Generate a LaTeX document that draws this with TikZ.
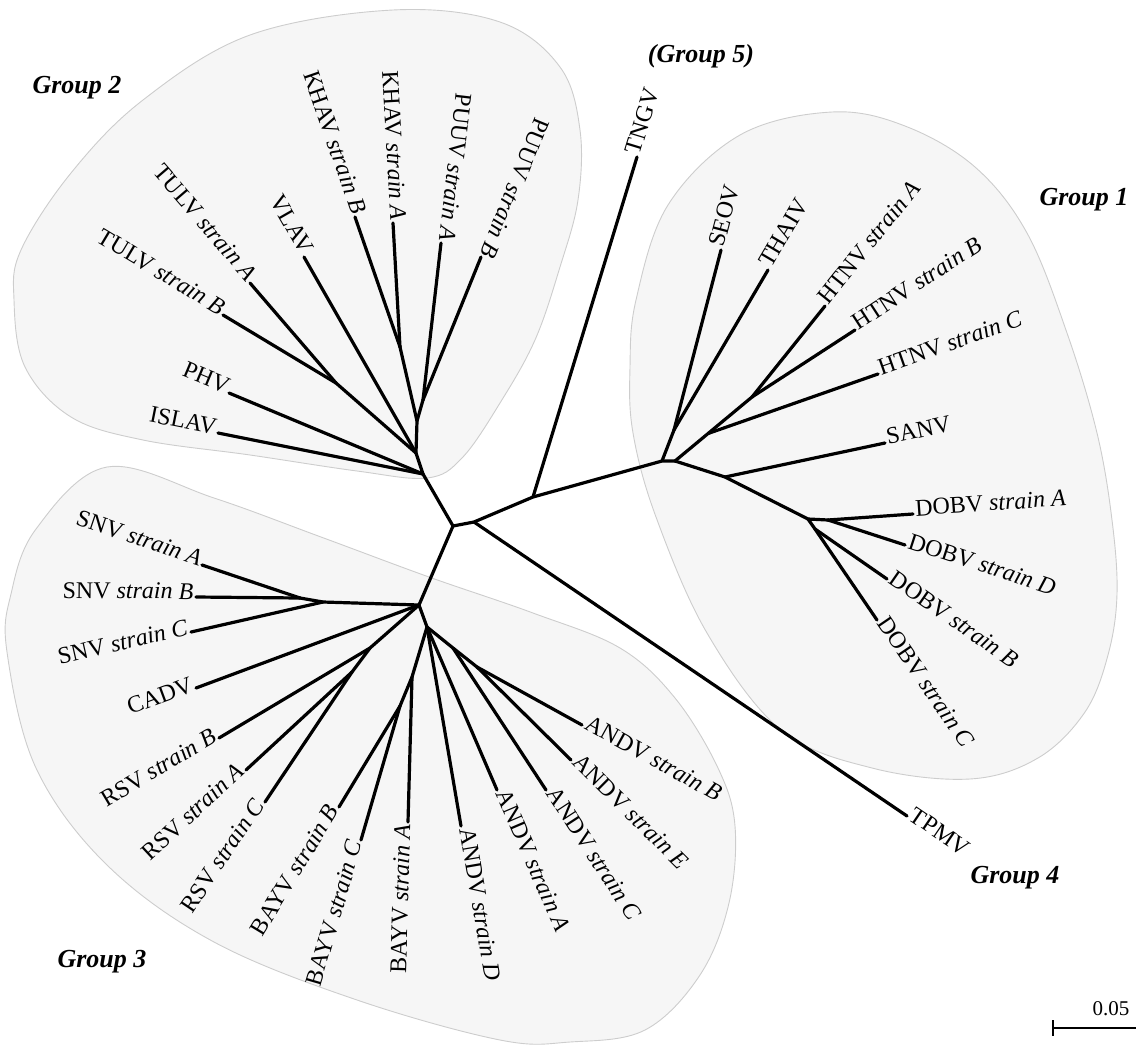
\documentclass[tikz,border=0pt]{standalone}
\usepackage{fontspec}
\setmainfont{Liberation Serif}
\usetikzlibrary{calc}
\definecolor{blobfill}{RGB}{246,246,246}
\definecolor{blobline}{RGB}{205,205,205}
\newcommand\leafL[4]{\draw[br] (#1) -- (#2);
  \path let \p1=($(#2)-(#1)$), \n1={atan2(\y1,\x1)+180} in node[lbl, anchor=mid east, rotate=\n1] (#3) at (#2) {#4};}
\newcommand\leafR[4]{\draw[br] (#1) -- (#2);
  \path let \p1=($(#2)-(#1)$), \n1={atan2(\y1,\x1)} in node[lbl, anchor=mid west, rotate=\n1] (#3) at (#2) {#4};}
\begin{document}
\begin{tikzpicture}[x=1pt,y=-1pt,
  br/.style={line width=3.2pt, line cap=round, line join=round},
  lbl/.style={font=\fontsize{24}{28}\selectfont, inner sep=2.5pt},
  grp/.style={font=\fontsize{26}{30}\selectfont\bfseries\itshape, inner sep=0pt},
  blob/.style={fill=blobfill, draw=blobline, line width=0.9pt}]
\useasboundingbox (0,0) rectangle (1136,1045);

% ---------- group areas ----------
\draw[blob] plot[smooth cycle, tension=0.6] coordinates {
 (393,10) (500,22) (560,67) (580,130) (578,200) (560,267) (535,340) (500,403)
 (462,458) (427,478) (357,471) (250,455) (143,440) (71,417) (25,367) (14,300)
 (21,250) (71,173) (143,100) (250,35)};
\draw[blob] plot[smooth cycle, tension=0.6] coordinates {
 (832,112) (905,126) (975,167) (1027,233) (1067,333) (1097,433) (1112,520)
 (1117,594) (1108,655) (1085,712) (1038,758) (970,779) (872,768) (781,730)
 (707,633) (656,517) (633,433) (630,367) (636,300) (668,205) (740,135)};
\draw[blob] plot[smooth cycle, tension=0.6] coordinates {
 (107,467) (214,498) (321,537) (429,577) (533,613) (620,648) (675,698)
 (718,768) (735,826) (729,903) (700,975) (645,1030) (570,1042) (500,1040)
 (357,1000) (214,942) (107,865) (36,768) (7,652) (11,594) (36,529)};

% ---------- backbone ----------
\coordinate (C0) at (453,526);
\coordinate (N1) at (474,522);
\coordinate (N2) at (533,497);
\coordinate (N3) at (662,461);
\coordinate (N3b) at (675,461);
\coordinate (G2r) at (423,474);
\coordinate (G3r) at (419,605);
\coordinate (tTNGV) at (637,157);
\coordinate (tTPMV) at (907,816);
\draw[br] (G2r) -- (C0) -- (N1) -- (N2) -- (N3) -- (N3b);
\draw[br] (C0) -- (G3r);
\leafR{N2}{tTNGV}{lTNGV}{TNGV}
\leafR{N1}{tTPMV}{lTPMV}{TPMV}

% ---------- group 2 ----------
\coordinate (G2a) at (416,453);
\coordinate (KP) at (417,421);
\coordinate (K) at (400,347);
\coordinate (P) at (423,400);
\coordinate (T) at (336,383);
\draw[br] (G2r) -- (G2a) -- (KP) -- (K);
\draw[br] (KP) -- (P);
\draw[br] (G2a) -- (T);
\coordinate (tKHAVB) at (355,217);
\coordinate (tKHAVA) at (393,223);
\coordinate (tPUUVA) at (441,243);
\coordinate (tPUUVB) at (481,257);
\coordinate (tVLAV) at (304,257);
\coordinate (tTULVA) at (250,283);
\coordinate (tTULVB) at (223,315);
\coordinate (tPHV) at (229,393);
\coordinate (tISLAV) at (218,433);
\leafL{K}{tKHAVB}{lKHAVB}{KHAV \textit{strain B}}
\leafL{K}{tKHAVA}{lKHAVA}{KHAV \textit{strain A}}
\leafL{P}{tPUUVA}{lPUUVA}{PUUV \textit{strain A}}
\leafL{P}{tPUUVB}{lPUUVB}{PUUV \textit{strain B}}
\leafL{G2a}{tVLAV}{lVLAV}{VLAV}
\leafL{T}{tTULVA}{lTULVA}{TULV \textit{strain A}}
\leafL{T}{tTULVB}{lTULVB}{TULV \textit{strain B}}
\leafL{G2r}{tPHV}{lPHV}{PHV}
\leafL{G2r}{tISLAV}{lISLAV}{ISLAV}

% ---------- group 1 ----------
\coordinate (ST) at (674,430);
\coordinate (AB) at (752,397);
\coordinate (HC) at ($(N3b)!0.43!(AB)$);
\coordinate (SAn) at (725,477);
\coordinate (D0) at (808,519);
\coordinate (DAD) at (828,520);
\coordinate (DBC) at (815,529);
\draw[br] (N3) -- (ST);
\draw[br] (N3b) -- (HC) -- (AB);
\draw[br] (N3b) -- (SAn) -- (D0) -- (DAD);
\draw[br] (D0) -- (DBC);
\coordinate (tSEOV) at (721,250);
\coordinate (tTHAIV) at (768,270);
\coordinate (tHTNVA) at (825,306);
\coordinate (tHTNVB) at (855,330);
\coordinate (tHTNVC) at (878,374);
\coordinate (tSANV) at (885,443);
\coordinate (tDOBVA) at (913,514);
\coordinate (tDOBVD) at (905,545);
\coordinate (tDOBVB) at (887,579);
\coordinate (tDOBVC) at (877,620);
\leafR{ST}{tSEOV}{lSEOV}{SEOV}
\leafR{ST}{tTHAIV}{lTHAIV}{THAIV}
\leafR{AB}{tHTNVA}{lHTNVA}{HTNV \textit{strain A}}
\leafR{AB}{tHTNVB}{lHTNVB}{HTNV \textit{strain B}}
\leafR{HC}{tHTNVC}{lHTNVC}{HTNV \textit{strain C}}
\leafR{SAn}{tSANV}{lSANV}{SANV}
\leafR{DAD}{tDOBVA}{lDOBVA}{DOBV \textit{strain A}}
\leafR{DAD}{tDOBVD}{lDOBVD}{DOBV \textit{strain D}}
\leafR{DBC}{tDOBVB}{lDOBVB}{DOBV \textit{strain B}}
\leafR{DBC}{tDOBVC}{lDOBVC}{DOBV \textit{strain C}}

% ---------- group 3 ----------
\coordinate (SNVn) at (323,602);
\coordinate (SNVab) at (300,598);
\coordinate (RSV1) at (370,648);
\coordinate (RSV2) at (352,672);
\coordinate (An) at (427,627);
\coordinate (BAYn) at (412,677);
\coordinate (BAYbc) at (400,706);
\coordinate (An2) at (453,648);
\coordinate (An3) at (477,667);
\draw[br] (G3r) -- (SNVn) -- (SNVab);
\draw[br] (G3r) -- (RSV1) -- (RSV2);
\draw[br] (G3r) -- (An) -- (BAYn) -- (BAYbc);
\draw[br] (An) -- (An2) -- (An3);
\coordinate (tSNVA) at (202,565);
\coordinate (tSNVB) at (196,597);
\coordinate (tSNVC) at (191,632);
\coordinate (tCADV) at (196,688);
\coordinate (tRSVB) at (219,738);
\coordinate (tRSVA) at (246,770);
\coordinate (tRSVC) at (265,802);
\coordinate (tBAYVB) at (339,807);
\coordinate (tBAYVC) at (361,840);
\coordinate (tBAYVA) at (408,822);
\coordinate (tANDVD) at (461,826);
\coordinate (tANDVA) at (497,790);
\coordinate (tANDVC) at (546,790);
\coordinate (tANDVE) at (571,760);
\coordinate (tANDVB) at (582,725);
\leafL{SNVab}{tSNVA}{lSNVA}{SNV \textit{strain A}}
\leafL{SNVab}{tSNVB}{lSNVB}{SNV \textit{strain B}}
\leafL{SNVn}{tSNVC}{lSNVC}{SNV \textit{strain C}}
\leafL{G3r}{tCADV}{lCADV}{CADV}
\leafL{RSV1}{tRSVB}{lRSVB}{RSV \textit{strain B}}
\leafL{RSV2}{tRSVA}{lRSVA}{RSV \textit{strain A}}
\leafL{RSV2}{tRSVC}{lRSVC}{RSV \textit{strain C}}
\leafL{BAYbc}{tBAYVB}{lBAYVB}{BAYV \textit{strain B}}
\leafL{BAYbc}{tBAYVC}{lBAYVC}{BAYV \textit{strain C}}
\leafL{BAYn}{tBAYVA}{lBAYVA}{BAYV \textit{strain A}}
\leafR{An}{tANDVD}{lANDVD}{ANDV \textit{strain D}}
\leafR{An}{tANDVA}{lANDVA}{ANDV \textit{strain A}}
\leafR{An2}{tANDVC}{lANDVC}{ANDV \textit{strain C}}
\leafR{An3}{tANDVE}{lANDVE}{ANDV \textit{strain E}}
\leafR{An3}{tANDVB}{lANDVB}{ANDV \textit{strain B}}

% ---------- group labels ----------
\node[grp] (g1) at (1084,200) {Group 1};
\node[grp] (g2) at (77,88) {Group 2};
\node[grp] (g3) at (102,962) {Group 3};
\node[grp] (g4) at (1015,878) {Group 4};
\node[grp] (g5) at (701,56) {(Group 5)};

% ---------- scale bar ----------
\coordinate (sb1) at (1053,1028);
\coordinate (sb2) at (1136,1028);
\coordinate (sbt1) at (1053,1020);
\coordinate (sbt2) at (1053,1036);
\draw[line width=2.8pt] (sb1) -- (sb2);
\draw[line width=2.8pt] (sbt1) -- (sbt2);
\node[font=\fontsize{21}{24}\selectfont, inner sep=0pt] (sblab) at (1111,1009) {0.05};
\end{tikzpicture}
\end{document}
